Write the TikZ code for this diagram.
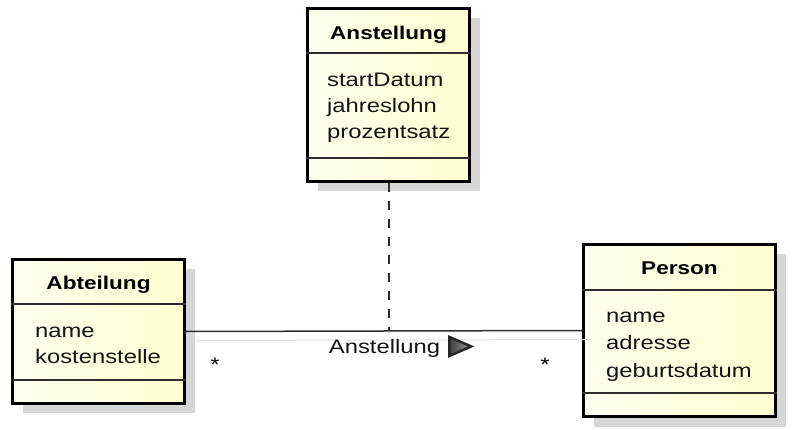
\documentclass[tikz,border=0pt]{standalone}
\usepackage{fontspec}
\setmainfont[FakeStretch=1.22]{Liberation Sans}
\usepackage{tikz}
\definecolor{umlyellow}{RGB}{255, 255, 208}
\definecolor{umlyellowlight}{RGB}{255, 255, 240}
\definecolor{umlline}{RGB}{45, 45, 45}
\usetikzlibrary{
  calc,
  positioning,
  shadows,
}
\tikzset{
  classbox/.style={draw=black, line width=3pt, inner sep=0pt,
    left color=umlyellowlight, right color=umlyellow,
    drop shadow={shadow xshift=10pt, shadow yshift=-10pt,
      fill=black!16, opacity=1}},
  divider/.style={draw=umlline, line width=1.5pt},
  classname/.style={anchor=base, inner sep=0pt,
    font=\fontsize{18.5}{26}\selectfont\bfseries},
  attr/.style={anchor=base west, inner sep=0pt,
    font=\fontsize{19.5}{26}\selectfont, text=black!92},
  assoc/.style={draw=umlline, line width=1.5pt,
    preaction={draw=black!12, line width=1pt,
      transform canvas={shift={(10pt,-9pt)}}}},
  assoclink/.style={draw=umlline, line width=2pt, dash pattern=on 9pt off 9pt},
  assoclabel/.style={anchor=base, inner sep=0pt,
    font=\fontsize{19.5}{26}\selectfont, text=black!92},
  dirarrow/.style={draw=black!85, line width=2.5pt, line join=miter,
    left color=black!75, right color=black!40},
  mult/.style={anchor=base, inner sep=0pt,
    font=\fontsize{19.5}{26}\selectfont},
}

\begin{document}
\begin{tikzpicture}[x=1pt, y=-1pt]
  \useasboundingbox (0,0) rectangle (793,430);

  % Anstellung
  \node [classbox, anchor=north west, minimum width=162pt, minimum height=173pt]
        (anst) at (306,7) {};
  \draw [divider] (anst.west |- 0,53) -- (anst.east |- 0,53);
  \draw [divider] (anst.west |- 0,158) -- (anst.east |- 0,158);
  \node [classname] (anst-name) at (anst.center |- 0,40) {Anstellung};
  \foreach \txt [count=\i] in {startDatum, jahreslohn, prozentsatz}
    \node [attr] (anst-\i) at (327, 61+26*\i) {\txt};

  % Abteilung
  \node [classbox, anchor=north west, minimum width=172pt, minimum height=144pt]
        (abt) at (11,258) {};
  \draw [divider] (abt.west |- 0,304) -- (abt.east |- 0,304);
  \draw [divider] (abt.west |- 0,380) -- (abt.east |- 0,380);
  \node [classname] (abt-name) at (abt.center |- 0,290) {Abteilung};
  \foreach \txt [count=\i] in {name, kostenstelle}
    \node [attr] (abt-\i) at (35, 312+26*\i) {\txt};

  % Person
  \node [classbox, anchor=north west, minimum width=192pt, minimum height=172pt]
        (pers) at (582,243) {};
  \draw [divider] (pers.west |- 0,290) -- (pers.east |- 0,290);
  \draw [divider] (pers.west |- 0,393) -- (pers.east |- 0,393);
  \node [classname] (pers-name) at (pers.center |- 0,275) {Person};
  \foreach \txt [count=\i] in {name, adresse, geburtsdatum}
    \node [attr] (pers-\i) at (606, 295+27.5*\i) {\txt};

  % association with class
  \draw [assoc] (abt.east) -- (pers.west);
  \coordinate (link) at (anst.south |- abt.east);
  \draw [assoclink] (anst.south) -- (link);
  \node [assoclabel] (assoc-name) at (384.5,354) {Anstellung};
  \draw [dirarrow] ($(assoc-name.east)+(9,-12)$) -- ++(22,9.5) -- ++(-22,9.5) -- cycle;
  \node [mult] (abt-mult) at (215,372) {*};
  \node [mult] (pers-mult) at (545,372) {*};
\end{tikzpicture}
\end{document}
